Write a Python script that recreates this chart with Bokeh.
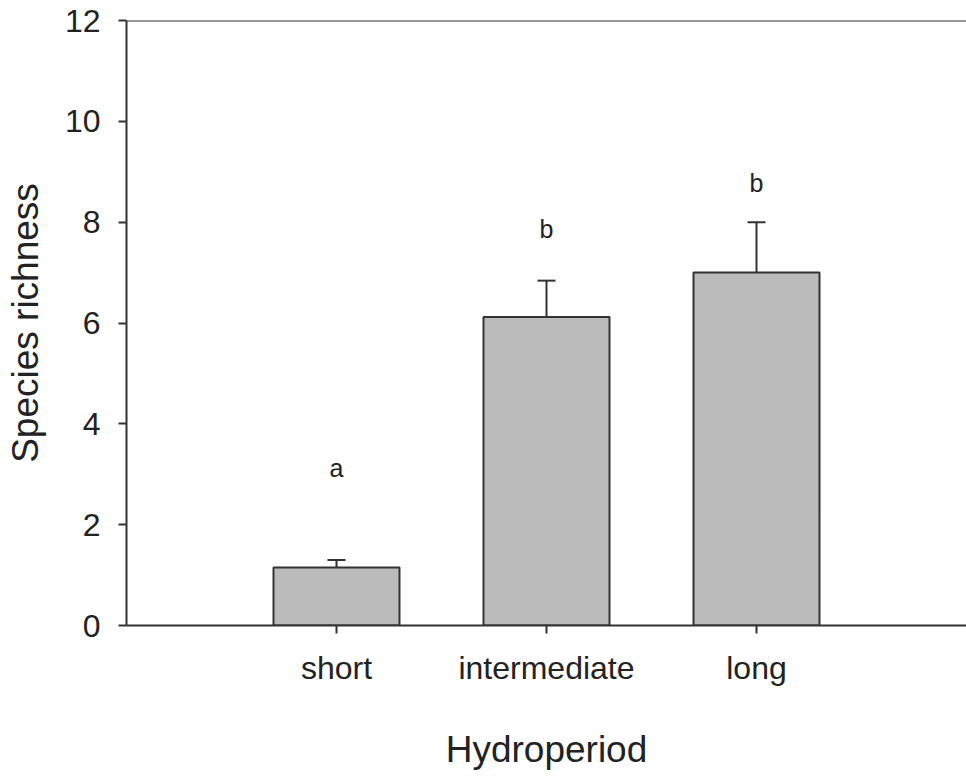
from bokeh.plotting import figure
from bokeh.models import ColumnDataSource, Whisker, TeeHead, Span, FixedTicker, Range1d
from bokeh.core.properties import value
from bokeh.embed import file_html
from bokeh.resources import INLINE

categories = ["short", "intermediate", "long"]
positions = [1, 2, 3]
means = [1.15, 6.12, 7.0]
errors = [0.15, 0.72, 1.0]
letters = ["a", "b", "b"]
letter_y = [3.12, 7.87, 8.77]
y_ticks = [0, 2, 4, 6, 8, 10, 12]

FONT = "Liberation Sans"
AX = "#333333"

src = ColumnDataSource(dict(
    x=positions, top=means,
    upper=[m + e for m, e in zip(means, errors)],
    letters=letters, ly=letter_y,
))

p = figure(width=966, height=778, output_backend="svg", toolbar_location=None,
           x_range=Range1d(0, 4), y_range=Range1d(0, 12),
           min_border_left=126, min_border_right=0, min_border_top=20, min_border_bottom=153)
p.outline_line_color = None
p.grid.visible = False
p.background_fill_color = "white"
p.border_fill_color = "white"

p.vbar(x="x", top="top", bottom=0, width=0.6, source=src,
       fill_color="#bbbbbb", line_color=AX, line_width=2)

w = Whisker(base="x", lower="top", upper="upper", source=src,
            line_color=AX, line_width=2, lower_head=None,
            upper_head=TeeHead(size=18, line_color=AX, line_width=2))
p.add_layout(w)

p.text(x="x", y="ly", text="letters", source=src, text_align="center",
       text_baseline="alphabetic", text_font=value(FONT), text_font_size="25px",
       text_color="#222222")

p.add_layout(Span(location=12, dimension="width", line_color=AX, line_width=2))

p.xaxis.ticker = FixedTicker(ticks=positions)
p.xaxis.major_label_overrides = {pos: c for pos, c in zip(positions, categories)}
p.yaxis.ticker = FixedTicker(ticks=y_ticks)

for ax in (p.xaxis, p.yaxis):
    ax.axis_line_color = AX
    ax.axis_line_width = 2
    ax.major_tick_line_color = AX
    ax.major_tick_line_width = 2
    ax.major_tick_out = 8
    ax.major_tick_in = 0
    ax.minor_tick_line_color = None
    ax.major_label_text_font = FONT
    ax.major_label_text_font_size = "32px"
    ax.major_label_text_color = "#222222"
    ax.axis_label_text_font = FONT
    ax.axis_label_text_font_size = "37px"
    ax.axis_label_text_font_style = "normal"
    ax.axis_label_text_color = "#222222"

p.yaxis.major_label_standoff = 18
p.xaxis.major_label_standoff = 16
p.xaxis.axis_label = "Hydroperiod"
p.yaxis.axis_label = "Species richness"
p.xaxis.axis_label_standoff = 40
p.yaxis.axis_label_standoff = 16

open("out.html", "w").write(file_html(p, INLINE))
